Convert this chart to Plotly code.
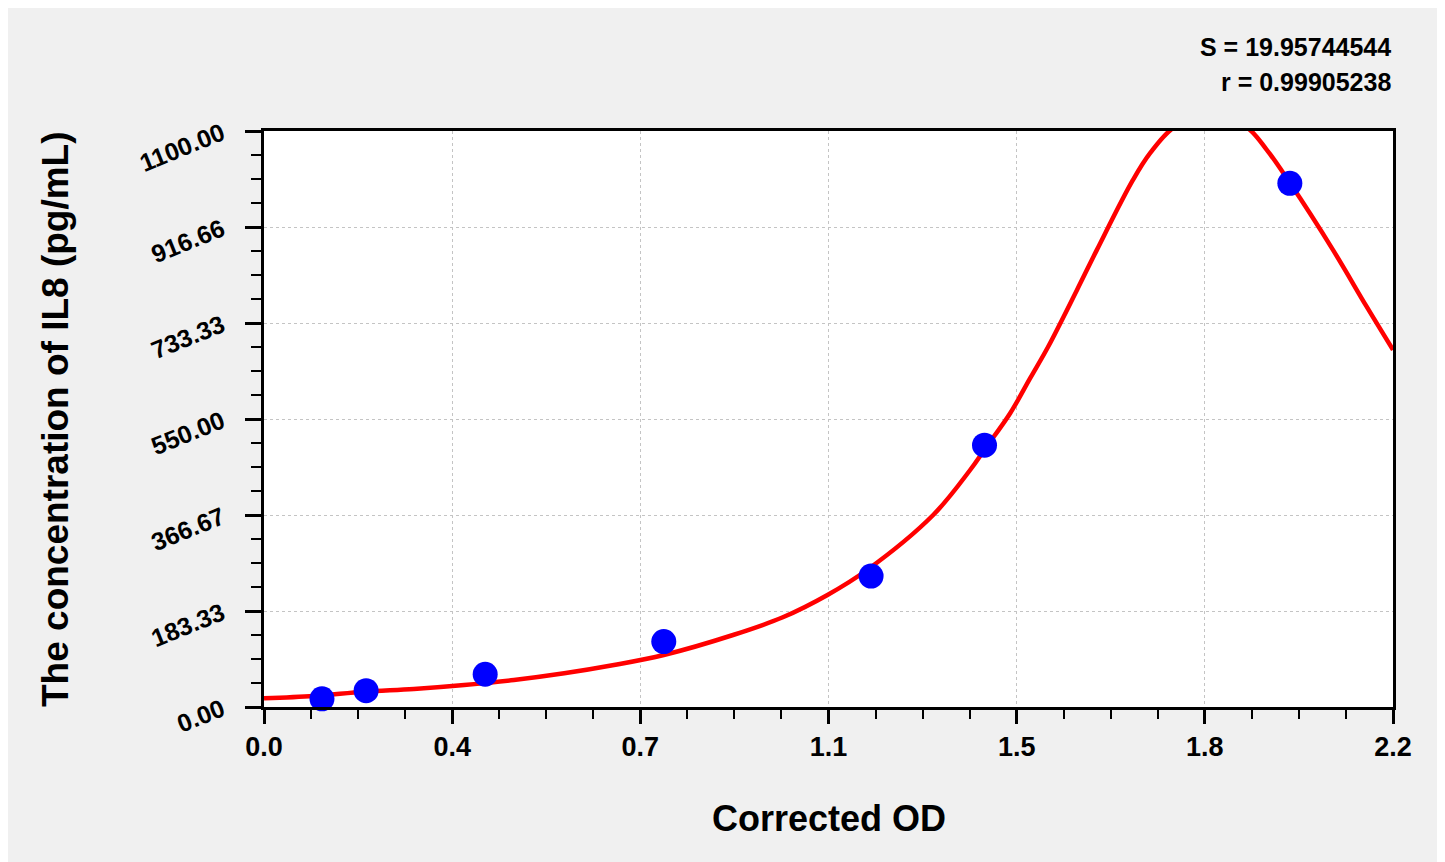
import plotly.graph_objects as go

# standard points (corrected OD vs concentration)
od = [0.113, 0.199, 0.431, 0.779, 1.183, 1.404, 1.999]
conc = [15.6, 31.25, 62.5, 125, 250, 500, 1000]

# fitted curve
curve_od = [0.0, 0.097, 0.195, 0.292, 0.390, 0.487, 0.585, 0.682, 0.779, 0.914,
            1.011, 1.098, 1.175, 1.304, 1.376, 1.405, 1.454, 1.493, 1.528, 1.584,
            1.623, 1.693, 1.727, 1.775, 1.845, 1.9135, 1.954, 1.999, 2.083, 2.149, 2.2]
curve_conc = [16.6, 21, 29.2, 34.4, 42, 51.6, 64.4, 80.2, 99.3, 137.5,
              171.3, 213.9, 261.6, 366.7, 452.6, 493, 561, 628, 688, 796,
              873, 1006, 1058, 1108, 1128, 1108, 1064, 1001, 873, 764, 682]

x_tickvals = [0, 2.2 / 6, 4.4 / 6, 1.1, 8.8 / 6, 11 / 6, 2.2]
x_ticktext = ['0.0', '0.4', '0.7', '1.1', '1.5', '1.8', '2.2']
y_tickvals = [0, 1100 / 6, 2200 / 6, 550, 4400 / 6, 5500 / 6, 1100]
y_ticktext = ['0.00', '183.33', '366.67', '550.00', '733.33', '916.66', '1100.00']

stats = ['S = 19.95744544', 'r = 0.99905238']

font = 'Liberation Sans, Arial, sans-serif'

fig = go.Figure()
fig.add_trace(go.Scatter(x=curve_od, y=curve_conc, mode='lines',
                         line=dict(color='#ff0000', width=4.5, shape='spline'),
                         showlegend=False, hoverinfo='skip'))
fig.add_trace(go.Scatter(x=od, y=conc, mode='markers',
                         marker=dict(color='#0000ff', size=25, line=dict(width=0)),
                         showlegend=False, cliponaxis=False))

fig.update_xaxes(range=[0, 2.2], tickvals=x_tickvals, ticktext=x_ticktext,
                 showline=True, linecolor='black', linewidth=3, mirror=True,
                 ticks='outside', ticklen=14, tickwidth=2.5, tickcolor='black',
                 showgrid=True, gridcolor='#c4c4c4', griddash='dot', gridwidth=1,
                 zeroline=False,
                 tickfont=dict(family=font, size=27, color='black', weight='bold'),
                 minor=dict(dtick=2.2 / 24, tick0=0, ticks='outside', ticklen=9,
                            tickwidth=2, tickcolor='black', showgrid=False))
fig.update_yaxes(range=[0, 1100], tickvals=y_tickvals, ticktext=y_ticktext,
                 showline=True, linecolor='black', linewidth=3, mirror=True,
                 ticks='outside', ticklen=16, tickwidth=2.5, tickcolor='black',
                 showgrid=True, gridcolor='#c4c4c4', griddash='dot', gridwidth=1,
                 zeroline=False, tickangle=-22, ticklabelstandoff=18,
                 tickfont=dict(family=font, size=25, color='black', weight='bold'),
                 minor=dict(dtick=1100 / 24, tick0=0, ticks='outside', ticklen=10,
                            tickwidth=2, tickcolor='black', showgrid=False))

# axis titles
fig.add_annotation(text='Corrected OD', xref='paper', yref='paper', x=0.5, y=0,
                   yshift=-111, yanchor='middle', showarrow=False,
                   font=dict(family=font, size=36, color='black', weight='bold'))
fig.add_annotation(text='The concentration of IL8 (pg/mL)', xref='paper', yref='paper',
                   x=0, y=0.5, xshift=-209, xanchor='center', textangle=-90,
                   showarrow=False,
                   font=dict(family=font, size=37, color='black', weight='bold'))

for i, s in enumerate(stats):
    fig.add_annotation(text=s, xref='paper', yref='paper', x=1, y=1,
                       xanchor='right', yanchor='bottom', yshift=68 - 35 * i,
                       showarrow=False,
                       font=dict(family=font, size=25, color='black', weight='bold'))

fig.update_layout(width=1445, height=862,
                  margin=dict(l=256, r=60, t=123, b=163),
                  paper_bgcolor='#f0f0f0', plot_bgcolor='white')

fig.write_html("out.html")
